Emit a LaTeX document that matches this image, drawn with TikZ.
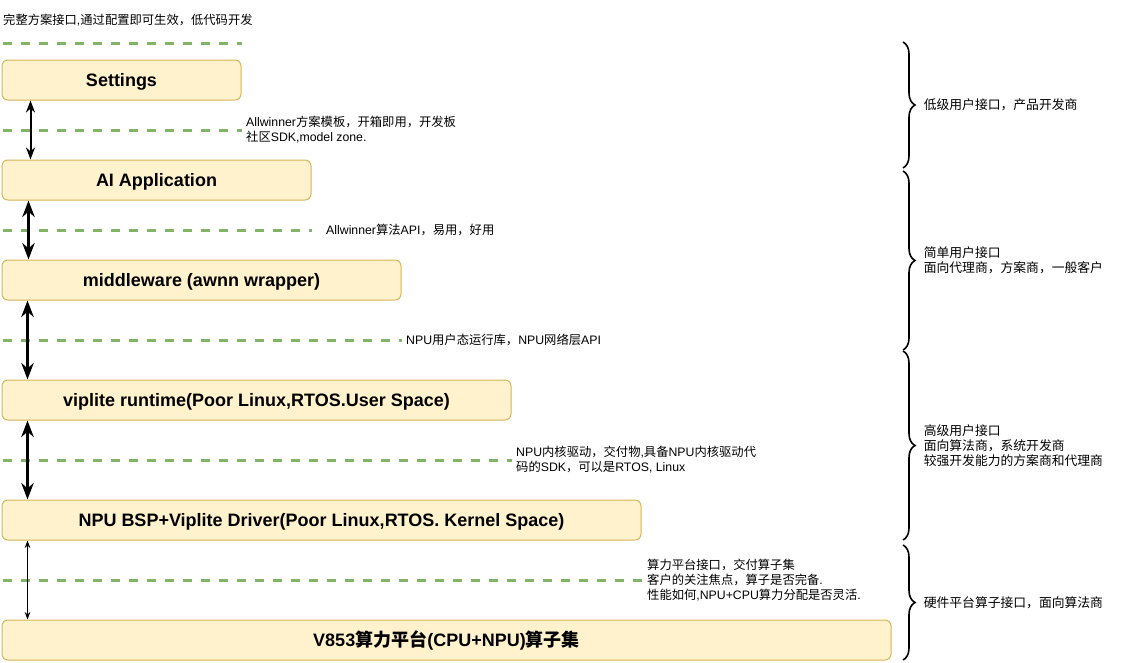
\documentclass[tikz,border=0pt]{standalone}
\usepackage{fontspec}
\setmainfont{Liberation Sans}
\newfontfamily\cjk{Noto Sans CJK SC}
\newcommand\zh[1]{{\cjk #1}}
\usetikzlibrary{arrows.meta,calc,decorations.pathreplacing}
\definecolor{layerfill}{HTML}{FFF2CC}
\definecolor{layerline}{HTML}{D6B656}
\definecolor{sepgreen}{HTML}{82B366}
\tikzset{
  layer/.style={draw=layerline, fill=layerfill, rounded corners=6pt, line width=1pt,
    minimum height=40pt, inner sep=0pt, text height=15pt, text depth=2pt,
    font=\bfseries\fontsize{18}{21}\selectfont},
  note/.style={anchor=west, inner sep=0pt, align=left, font=\fontsize{12.3}{15}\selectfont},
  sep/.style={draw=sepgreen, line width=3pt, dash pattern=on 9pt off 9pt},
  link/.style={{Stealth}-{Stealth}},
  bracket/.style={decorate, decoration={brace, amplitude=12pt}, line width=1.6pt},
  bracetext/.style={midway, anchor=west, xshift=20pt, inner sep=0pt, align=left,
    font=\fontsize{12.8}{15}\selectfont}
}
\begin{document}
\begin{tikzpicture}[x=1pt,y=-1pt]
    \useasboundingbox (0,0) rectangle (1132,662);
    % layers
    \node[layer, minimum width=239pt] (settings) at (121.5,80) {Settings};
    \node[layer, minimum width=309pt] (aiapp) at (156.5,180) {AI Application};
    \node[layer, minimum width=399pt] (mw) at (201.5,280) {middleware (awnn wrapper)};
    \node[layer, minimum width=509pt] (vip) at (256.5,400) {viplite runtime(Poor Linux,RTOS.User Space)};
    \node[layer, minimum width=639pt] (bsp) at (321.5,520) {NPU BSP+Viplite Driver(Poor Linux,RTOS. Kernel Space)};
    \node[layer, minimum width=889pt] (v853) at (446.5,640) {V853\zh{算力平台}(CPU+NPU)\zh{算子集}};
    % interface lines
    \draw[sep] (3,43) -- (settings.east |- 0,43);
    \foreach \y/\b in {130/settings,230/aiapp,340/mw,460/vip,580/bsp}
      \draw[sep] (3,\y) -- (\b.east |- 0,\y);
    \node[note] (top) at (3,20) {\zh{完整方案接口},\zh{通过配置即可生效，低代码开发}};
    \node[note] (n1) at (246,130) {Allwinner\zh{方案模板，开箱即用，开发板}\\\zh{社区}SDK,model zone.};
    \node[note] (n2) at (326,230) {Allwinner\zh{算法}API\zh{，易用，好用}};
    \node[note] (n3) at (406,340) {NPU\zh{用户态运行库，}NPU\zh{网络层}API};
    \node[note] (n4) at (516,460) {NPU\zh{内核驱动，交付物},\zh{具备}NPU\zh{内核驱动代}\\\zh{码的}SDK\zh{，可以是}RTOS, Linux};
    \node[note] (n5) at (647,580) {\zh{算力平台接口，交付算子集}\\\zh{客户的关注焦点，算子是否完备}.\\\zh{性能如何},NPU+CPU\zh{算力分配是否灵活}.};
    % calls between layers
    \draw[link, line width=2pt] ($(settings.south west)+(29,0)$) -- ($(aiapp.north west)+(29,0)$);
    \draw[link, line width=3pt] ($(aiapp.south west)+(27,0)$) -- ($(mw.north west)+(27,0)$);
    \draw[link, line width=3pt] ($(mw.south west)+(26,0)$) -- ($(vip.north west)+(26,0)$);
    \draw[link, line width=3pt] ($(vip.south west)+(26,0)$) -- ($(bsp.north west)+(26,0)$);
    \draw[link, line width=1pt] ($(bsp.south west)+(26,0)$) -- ($(v853.north west)+(26,0)$);
    % user groups
    \draw[bracket] (903,42) -- node[bracetext] (g1) {\zh{低级用户接口，产品开发商}} (903,168);
    \draw[bracket] (903,171) -- node[bracetext] (g2) {\zh{简单用户接口}\\\zh{面向代理商，方案商，一般客户}} (903,350);
    \draw[bracket] (903,351) -- node[bracetext] (g3) {\zh{高级用户接口}\\\zh{面向算法商，系统开发商}\\\zh{较强开发能力的方案商和代理商}} (903,540);
    \draw[bracket] (903,545) -- node[bracetext] (g4) {\zh{硬件平台算子接口，面向算法商}} (903,660);
\end{tikzpicture}
\end{document}
